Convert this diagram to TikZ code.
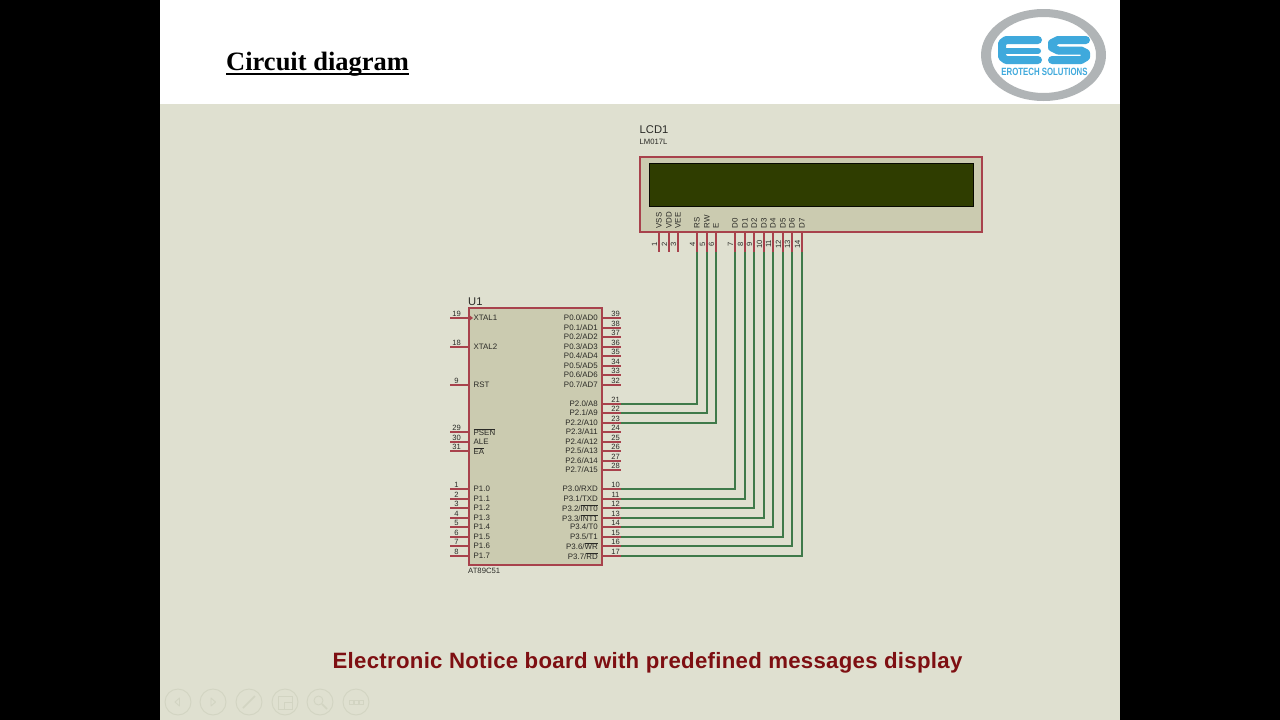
\documentclass[tikz,border=0pt]{standalone}
\usepackage{fontspec}
\setmainfont{Liberation Sans}
\newfontfamily\serifbold{Liberation Serif}[Scale=1.0]
\definecolor{slidebg}{HTML}{DFE0D0}
\definecolor{chipfill}{HTML}{CBCBB0}
\definecolor{pinred}{HTML}{A8424C}
\definecolor{wiregreen}{HTML}{3F7A4A}
\definecolor{lcdscreen}{HTML}{2F3D00}
\definecolor{labelgrey}{HTML}{2A2A26}
\definecolor{logoblue}{HTML}{3FA9DC}
\definecolor{logogrey}{HTML}{B0B4B6}
\definecolor{navgrey}{HTML}{D2D4C2}
\definecolor{noticered}{HTML}{7E0F12}
\newcommand{\ovl}[1]{\vbox{\hrule height .3pt \kern .4pt \hbox{#1}}}
\tikzset{
  x=1pt,y=-1pt,
  chip/.style={draw=pinred,line width=1.5pt,fill=chipfill},
  pinline/.style={draw=pinred,line width=1.5pt},
  wire/.style={draw=wiregreen,line width=1.5pt},
  plabel/.style={font=\fontsize{7.9}{8}\selectfont,text=labelgrey,inner sep=0pt},
  pnum/.style={font=\fontsize{7.6}{8}\selectfont,text=labelgrey,inner sep=0pt},
  reflabel/.style={font=\fontsize{11.2}{12}\selectfont,text=labelgrey,inner sep=0pt,anchor=base west},
  typelabel/.style={font=\fontsize{7.7}{8}\selectfont,text=labelgrey,inner sep=0pt,anchor=base west},
  navicon/.style={draw=navgrey,line width=.9pt},
  esbar/.style={draw=logoblue,line width=8pt,line cap=round,line join=round},
}
\begin{document}
\begin{tikzpicture}
\useasboundingbox (0,0) rectangle (1280,720);
\fill[black] (0,0) rectangle (1280,720);
\fill[white] (160,0) rectangle (1120,104);
\fill[slidebg] (160,104) rectangle (1120,720);

% title
\node[anchor=base west,inner sep=0pt,font=\serifbold\bfseries\fontsize{26.5}{27}\selectfont] (title) at (226,70) {Circuit diagram};
\draw[black,line width=2.2pt] (title.base west)++(0,4) -- ++(183,0);

% logo
\fill[logogrey,even odd rule] (1043.5,55) ellipse [x radius=62.5,y radius=46] (1043.5,55) ellipse [x radius=52.5,y radius=38];
\draw[esbar] (1038,40) -- (1006,40) -- (1002,43) -- (1002,57) -- (1006,60) -- (1038,60);
\draw[esbar,line width=6pt] (1004,51) -- (1038,51);
\draw[esbar] (1086,40) -- (1058,40) -- (1052,43) -- (1052,47.5) -- (1058,50.5) -- (1081,50.5) -- (1086,53) -- (1086,57) -- (1081,60) -- (1052,60);
\node[inner sep=0pt,text=logoblue,font=\bfseries\fontsize{10.5}{11}\selectfont,xscale=.745] (logotext) at (1044.5,71.5) {EROTECH SOLUTIONS};

% U1
\draw[chip] (469,308) rectangle (602,565);
\node[reflabel] (u1ref) at (468,305) {U1};
\node[typelabel] (u1type) at (468,573) {AT89C51};

% U1 left pins: number / y / label
\foreach \n/\y/\t in {19/318/XTAL1,18/347/XTAL2,9/385/RST,29/432/\ovl{PSEN},30/442/ALE,31/451/\ovl{EA},
  1/489/P1.0,2/499/P1.1,3/508/P1.2,4/518/P1.3,5/527/P1.4,6/537/P1.5,7/546/P1.6,8/556/P1.7}{
  \coordinate (ul\n) at (469,\y);
  \coordinate (ule\n) at (450,\y);
  \draw[pinline] (ul\n) -- (ule\n);
  \node[pnum] (uln\n) at (456.5,\y-4.5) {\n};
  \node[plabel,anchor=west] (ull\n) at (473.5,\y) {\t};
}
\fill[pinred] (469,315) -- (473,318) -- (469,321) -- cycle;

% U1 right pins
\foreach \n/\y/\t in {39/318/{P0.0/AD0},38/328/{P0.1/AD1},37/337/{P0.2/AD2},36/347/{P0.3/AD3},35/356/{P0.4/AD4},34/366/{P0.5/AD5},33/375/{P0.6/AD6},32/385/{P0.7/AD7},
  21/404/{P2.0/A8},22/413/{P2.1/A9},23/423/{P2.2/A10},24/432/{P2.3/A11},25/442/{P2.4/A12},26/451/{P2.5/A13},27/461/{P2.6/A14},28/470/{P2.7/A15},
  10/489/{P3.0/RXD},11/499/{P3.1/TXD},12/508/{P3.2/\ovl{INT0}},13/518/{P3.3/\ovl{INT1}},14/527/{P3.4/T0},15/537/{P3.5/T1},16/546/{P3.6/\ovl{WR}},17/556/{P3.7/\ovl{RD}}}{
  \coordinate (ur\n) at (602,\y);
  \coordinate (ure\n) at (621,\y);
  \draw[pinline] (ur\n) -- (ure\n);
  \node[pnum] (urn\n) at (615.5,\y-4.5) {\n};
  \node[plabel,anchor=east] (url\n) at (598,\y) {\t};
}

% LCD
\draw[chip] (640,157) rectangle (982,232);
\fill[lcdscreen] (649,163.5) rectangle (973,206);
\draw[black!85!lcdscreen,line width=.8pt] (649,163.5) rectangle (973,206);
\node[reflabel] (lcdref) at (639.5,133) {LCD1};
\node[typelabel] (lcdtype) at (639.5,144) {LM017L};

\foreach \n/\x/\t in {1/659/VSS,2/669/VDD,3/678/VEE,4/697/RS,5/707/RW,6/716/E,7/735/D0,8/745/D1,9/754/D2,10/764/D3,11/773/D4,12/783/D5,13/792/D6,14/802/D7}{
  \coordinate (lp\n) at (\x,232);
  \coordinate (lq\n) at (\x,252);
  \draw[pinline] (lp\n) -- (lq\n);
  \node[pnum,rotate=90] (lpn\n) at (\x-4.5,244) {\n};
  \node[plabel,rotate=90,anchor=west] (lpl\n) at (\x,228.5) {\t};
}

% wires
\foreach \a/\b in {21/4,22/5,23/6,10/7,11/8,12/9,13/10,14/11,15/12,16/13,17/14}{
  \draw[wire] (ure\a) -| (lq\b);
}

% caption
\node[inner sep=0pt,anchor=base,text=noticered,font=\bfseries\fontsize{22.2}{23}\selectfont\addfontfeature{LetterSpace=1.3}] (caption) at (647.5,668) {Electronic Notice board with predefined messages display};

% nav icons
\foreach \i/\x in {a/178,b/213,c/249,d/285,e/320,f/356}{
  \node[navicon,circle,minimum size=26pt,inner sep=0pt] (nav\i) at (\x,702) {};
}
\draw[navicon,line join=round] (179.5,698) -- (175,702) -- (179.5,706) -- cycle;
\draw[navicon,line join=round] (211,698) -- (215.5,702) -- (211,706) -- cycle;
\draw[navicon,line width=1.6pt] (243,708) -- (255,696);
\draw[navicon] (278,696) rectangle (292,709);
\draw[navicon] (284,702) rectangle (292,709);
\draw[navicon] (318.5,700.5) circle (4.5);
\draw[navicon,line width=1.6pt] (322,704) -- (327,709);
\draw[navicon] (349,700) rectangle (353.5,704);
\draw[navicon] (354,700) rectangle (358.5,704);
\draw[navicon] (359,700) rectangle (363.5,704);
\end{tikzpicture}
\end{document}
